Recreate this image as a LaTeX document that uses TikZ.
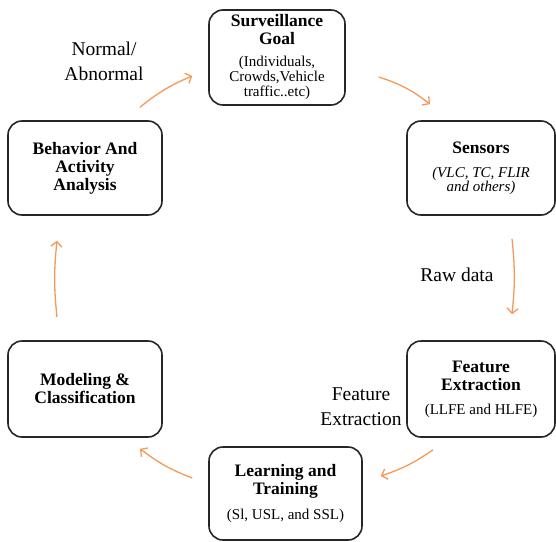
\documentclass[tikz,border=0pt]{standalone}
\usepackage{fontspec}
\setmainfont{Liberation Serif}
\usepackage{tikz}
\usetikzlibrary{arrows.meta,positioning}
\definecolor{flowor}{RGB}{246,152,88}

\begin{document}
\begin{tikzpicture}[x=1pt,y=1pt]
                    \tikzstyle{box}=[draw=black!85, line width=1.6pt, rounded corners=14, align=center, inner sep=0pt, font=\fontsize{17.5}{18}\selectfont\bfseries]
                    \tikzstyle{flow}=[draw=flowor, line width=1.3pt, -{Straight Barb[length=5pt,width=11pt]}]
                    \tikzstyle{lbl}=[align=center, font=\fontsize{19.5}{25}\selectfont]
                    \newcommand{\sm}{\fontsize{15}{15}\selectfont\mdseries}
                    \useasboundingbox (0,0) rectangle (556,-541);
                    \node [box, minimum width=136, minimum height=95] (goal) at (277,-57.5)
                      {Surveillance\\ Goal\\[4pt] \sm (Individuals,\\[-3pt] \sm Crowds,Vehicle\\[-3pt] \sm traffic..etc)};
                    \node [box, minimum width=148, minimum height=94] (sens) at (481,-168)
                      {Sensors\\[6pt] \sm\itshape (VLC, TC, FLIR\\[-4pt] \sm\itshape and others)};
                    \node [box, minimum width=148, minimum height=96] (feat) at (481,-389)
                      {Feature\\ Extraction\\[6pt] \sm (LLFE and HLFE)};
                    \node [box, minimum width=153, minimum height=93] (learn) at (285.5,-493.5)
                      {Learning and\\ Training\\[7pt] \sm (Sl, USL, and SSL)};
                    \node [box, minimum width=154, minimum height=96] (model) at (85,-389)
                      {Modeling \&\\ Classification};
                    \node [box, minimum width=154, minimum height=94] (behav) at (85,-168)
                      {Behavior And\\ Activity\\ Analysis};
                    % labels
                    \node [lbl] (normal) at (104,-61) {Normal/\\Abnormal};
                    \node [lbl] (raw) at (457,-275) {Raw data};
                    \node [lbl] (fext) at (361,-407) {Feature\\Extraction};
                    % arrows round the cycle
                    \draw [flow] ([shift={(33,-19.5)}]goal.east) to [bend left=10] ([shift={(-51,16)}]sens.north);
                    \draw [flow] ([shift={(31,-23)}]sens.south) to [bend left=6] ([shift={(31,26)}]feat.north);
                    \draw [flow] ([shift={(-48,-12)}]feat.south) to [bend left=8] ([shift={(18,17.5)}]learn.east);
                    \draw [flow] ([shift={(-16,15.5)}]learn.west) to [bend left=8] ([shift={(55,-11)}]model.south);
                    \draw [flow] ([shift={(-28,23)}]model.north) to [bend left=6] ([shift={(-28,-25)}]behav.south);
                    \draw [flow] ([shift={(55,13)}]behav.north) to [bend left=8] ([shift={(-16,-18.5)}]goal.west);
                \end{tikzpicture}
\end{document}
